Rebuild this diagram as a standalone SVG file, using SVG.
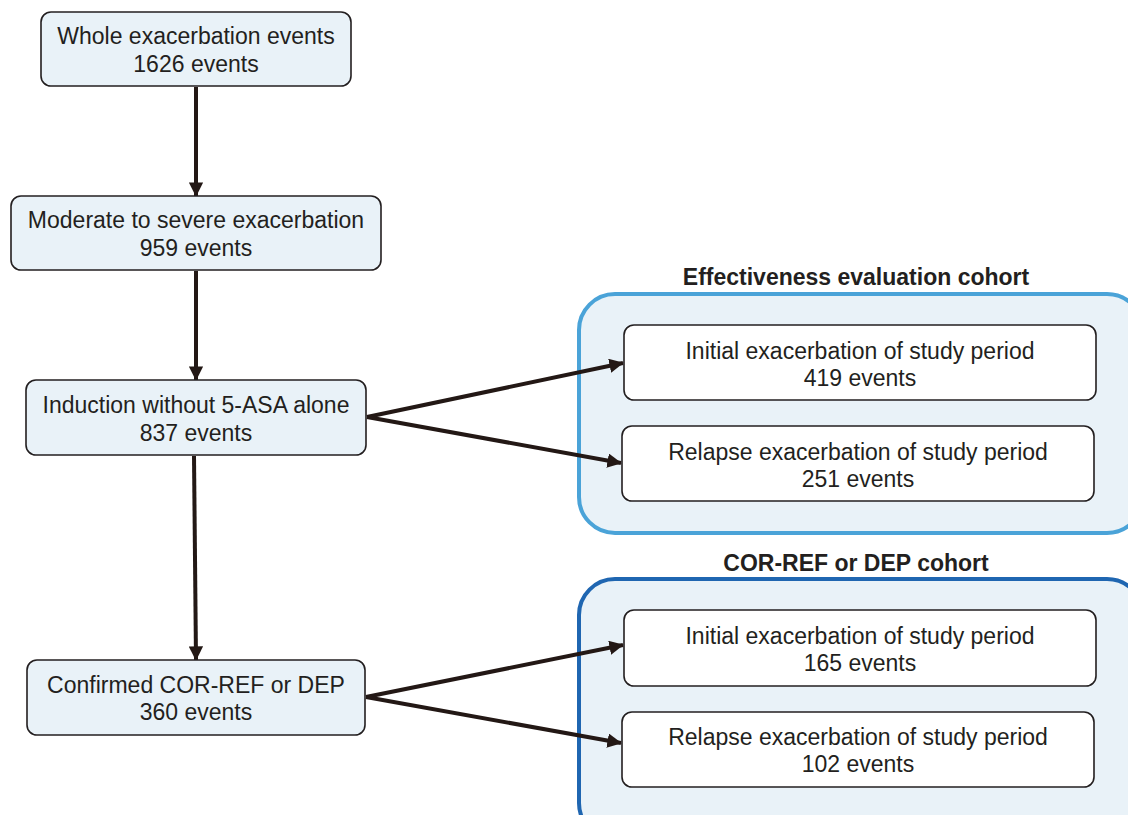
<svg xmlns="http://www.w3.org/2000/svg" width="1128" height="815" viewBox="0 0 1128 815">
<style>
.box{fill:#e9f2f8;stroke:#231f20;stroke-width:1.6}
.inner{fill:#ffffff;stroke:#231f20;stroke-width:1.6}
.t{font-family:"Liberation Sans",Arial,sans-serif;font-size:23px;fill:#231f20;text-anchor:middle}
.tb{font-family:"Liberation Sans",Arial,sans-serif;font-size:23px;font-weight:bold;fill:#231f20;text-anchor:middle}
.arr{stroke:#231815;stroke-width:4;fill:none;marker-end:url(#ah)}
</style>
<defs>
<marker id="ah" markerWidth="3.6" markerHeight="3.6" refX="3.4" refY="1.8" orient="auto" markerUnits="strokeWidth">
<path d="M0,0 L3.6,1.8 L0,3.6 z" fill="#231815"/>
</marker>
</defs>
<rect width="1128" height="815" fill="#ffffff"/>
<g id="cohort1">
<rect x="579" y="294" width="564" height="239" rx="36" fill="#e9f2f8" stroke="#4aa3d8" stroke-width="4"/>
<text class="tb" x="856" y="285">Effectiveness evaluation cohort</text>
</g>
<g id="cohort2">
<rect x="579" y="579" width="564" height="260" rx="36" fill="#e9f2f8" stroke="#1f66b1" stroke-width="4"/>
<text class="tb" x="856" y="571">COR-REF or DEP cohort</text>
</g>
<g id="connectors">
<line class="arr" x1="196" y1="87" x2="196" y2="196"/>
<line class="arr" x1="196" y1="271" x2="196" y2="380"/>
<line class="arr" x1="194" y1="456" x2="196" y2="660"/>
<line class="arr" x1="367" y1="417" x2="623" y2="363"/>
<line class="arr" x1="367" y1="417" x2="621" y2="463"/>
<line class="arr" x1="366" y1="697" x2="623" y2="645"/>
<line class="arr" x1="366" y1="697" x2="621" y2="743"/>
</g>
<g id="n1">
<rect class="box" x="41" y="12" width="310" height="74" rx="10"/>
<text class="t" x="196" y="44">Whole exacerbation events</text>
<text class="t" x="196" y="72">1626 events</text>
</g>
<g id="n2">
<rect class="box" x="11" y="196" width="370" height="74" rx="10"/>
<text class="t" x="196" y="228">Moderate to severe exacerbation</text>
<text class="t" x="196" y="256">959 events</text>
</g>
<g id="n3">
<rect class="box" x="26" y="380" width="340" height="75" rx="10"/>
<text class="t" x="196" y="413">Induction without 5-ASA alone</text>
<text class="t" x="196" y="441">837 events</text>
</g>
<g id="n4">
<rect class="box" x="27" y="660" width="338" height="75" rx="10"/>
<text class="t" x="196" y="693">Confirmed COR-REF or DEP</text>
<text class="t" x="196" y="720">360 events</text>
</g>
<g id="n5">
<rect class="inner" x="624" y="325" width="472" height="75" rx="10"/>
<text class="t" x="860" y="359">Initial exacerbation of study period</text>
<text class="t" x="860" y="386">419 events</text>
</g>
<g id="n6">
<rect class="inner" x="622" y="426" width="472" height="75" rx="10"/>
<text class="t" x="858" y="460">Relapse exacerbation of study period</text>
<text class="t" x="858" y="487">251 events</text>
</g>
<g id="n7">
<rect class="inner" x="624" y="610" width="472" height="76" rx="10"/>
<text class="t" x="860" y="644">Initial exacerbation of study period</text>
<text class="t" x="860" y="671">165 events</text>
</g>
<g id="n8">
<rect class="inner" x="622" y="712" width="472" height="75" rx="10"/>
<text class="t" x="858" y="745">Relapse exacerbation of study period</text>
<text class="t" x="858" y="772">102 events</text>
</g>
</svg>
